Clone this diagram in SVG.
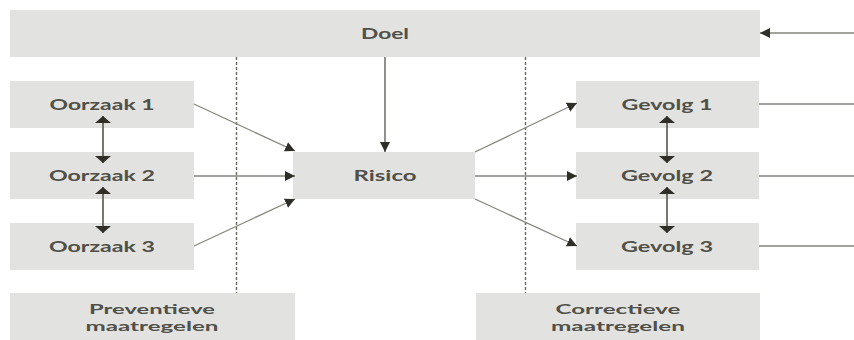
<svg xmlns="http://www.w3.org/2000/svg" width="854" height="340" viewBox="0 0 854 340">
<style>
.box{fill:#e2e2e1}
.t{font-family:Lato,"Open Sans","Liberation Sans",sans-serif;font-weight:700;font-size:15px;fill:#505048;text-anchor:middle}
.s{font-size:14px}
.ln{stroke:#85857c;stroke-width:1.3;fill:none}
.dbl{stroke:#55554c;stroke-width:1.6;fill:none}
.dot{stroke:#6a6a62;stroke-width:1.4;stroke-dasharray:3 2;fill:none}
</style>
<defs>
<marker id="tri" markerUnits="userSpaceOnUse" markerWidth="11" markerHeight="10" refX="10" refY="5" orient="auto">
<path d="M0,0 L10,5 L0,10 z" fill="#2f2f28"/>
</marker>
<marker id="flat" markerUnits="userSpaceOnUse" markerWidth="8" markerHeight="16" refX="7" refY="8" orient="auto-start-reverse">
<path d="M0,0 L7,8 L0,16 z" fill="#2f2f28"/>
</marker>
</defs>
<g id="doel"><rect class="box" x="10" y="10" width="750" height="47"/><text class="t" x="385" y="39" textLength="48" lengthAdjust="spacingAndGlyphs">Doel</text></g>
<g id="oorzaak1"><rect class="box" x="10" y="81" width="184" height="47"/><text class="t" x="102" y="110" textLength="105" lengthAdjust="spacingAndGlyphs">Oorzaak 1</text></g>
<g id="oorzaak2"><rect class="box" x="10" y="152" width="184" height="47"/><text class="t" x="102" y="181" textLength="106" lengthAdjust="spacingAndGlyphs">Oorzaak 2</text></g>
<g id="oorzaak3"><rect class="box" x="10" y="223" width="184" height="47"/><text class="t" x="102" y="252" textLength="106" lengthAdjust="spacingAndGlyphs">Oorzaak 3</text></g>
<g id="risico"><rect class="box" x="293" y="152" width="182" height="47"/><text class="t" x="385" y="181" textLength="63" lengthAdjust="spacingAndGlyphs">Risico</text></g>
<g id="gevolg1"><rect class="box" x="576" y="81" width="183" height="47"/><text class="t" x="667" y="110" textLength="91" lengthAdjust="spacingAndGlyphs">Gevolg 1</text></g>
<g id="gevolg2"><rect class="box" x="576" y="152" width="183" height="47"/><text class="t" x="667" y="181" textLength="92" lengthAdjust="spacingAndGlyphs">Gevolg 2</text></g>
<g id="gevolg3"><rect class="box" x="576" y="223" width="183" height="47"/><text class="t" x="667" y="252" textLength="92" lengthAdjust="spacingAndGlyphs">Gevolg 3</text></g>
<g id="preventieve"><rect class="box" x="10" y="293" width="285" height="47"/><text class="t s" x="152" y="314" textLength="126" lengthAdjust="spacingAndGlyphs">Preventieve</text><text class="t s" x="152" y="331" textLength="133" lengthAdjust="spacingAndGlyphs">maatregelen</text></g>
<g id="correctieve"><rect class="box" x="476" y="293" width="284" height="47"/><text class="t s" x="618" y="314" textLength="125" lengthAdjust="spacingAndGlyphs">Correctieve</text><text class="t s" x="618" y="331" textLength="134" lengthAdjust="spacingAndGlyphs">maatregelen</text></g>
<g id="connectors">
<line class="dot" x1="236.5" y1="57" x2="236.5" y2="293"/>
<line class="dot" x1="525.5" y1="57" x2="525.5" y2="293"/>
<line class="ln" x1="854" y1="33" x2="760" y2="33" marker-end="url(#tri)"/>
<line class="ln" x1="385" y1="57" x2="385" y2="152" marker-end="url(#tri)" style="stroke:#55554c"/>
<line class="ln" x1="194" y1="104" x2="295" y2="151" marker-end="url(#tri)"/>
<line class="ln" x1="194" y1="176" x2="295" y2="176" marker-end="url(#tri)"/>
<line class="ln" x1="194" y1="246" x2="295" y2="199" marker-end="url(#tri)"/>
<line class="ln" x1="475" y1="152" x2="577" y2="103" marker-end="url(#tri)"/>
<line class="ln" x1="475" y1="176" x2="577" y2="176" marker-end="url(#tri)"/>
<line class="ln" x1="475" y1="199" x2="577" y2="246" marker-end="url(#tri)"/>
<line class="ln" x1="759" y1="104" x2="854" y2="104"/>
<line class="ln" x1="759" y1="176" x2="854" y2="176"/>
<line class="ln" x1="759" y1="246" x2="854" y2="246"/>
<line class="dbl" x1="103" y1="116" x2="103" y2="163" marker-start="url(#flat)" marker-end="url(#flat)"/>
<line class="dbl" x1="103" y1="187" x2="103" y2="233" marker-start="url(#flat)" marker-end="url(#flat)"/>
<line class="dbl" x1="667" y1="116" x2="667" y2="163" marker-start="url(#flat)" marker-end="url(#flat)"/>
<line class="dbl" x1="667" y1="187" x2="667" y2="233" marker-start="url(#flat)" marker-end="url(#flat)"/>
</g>
</svg>
